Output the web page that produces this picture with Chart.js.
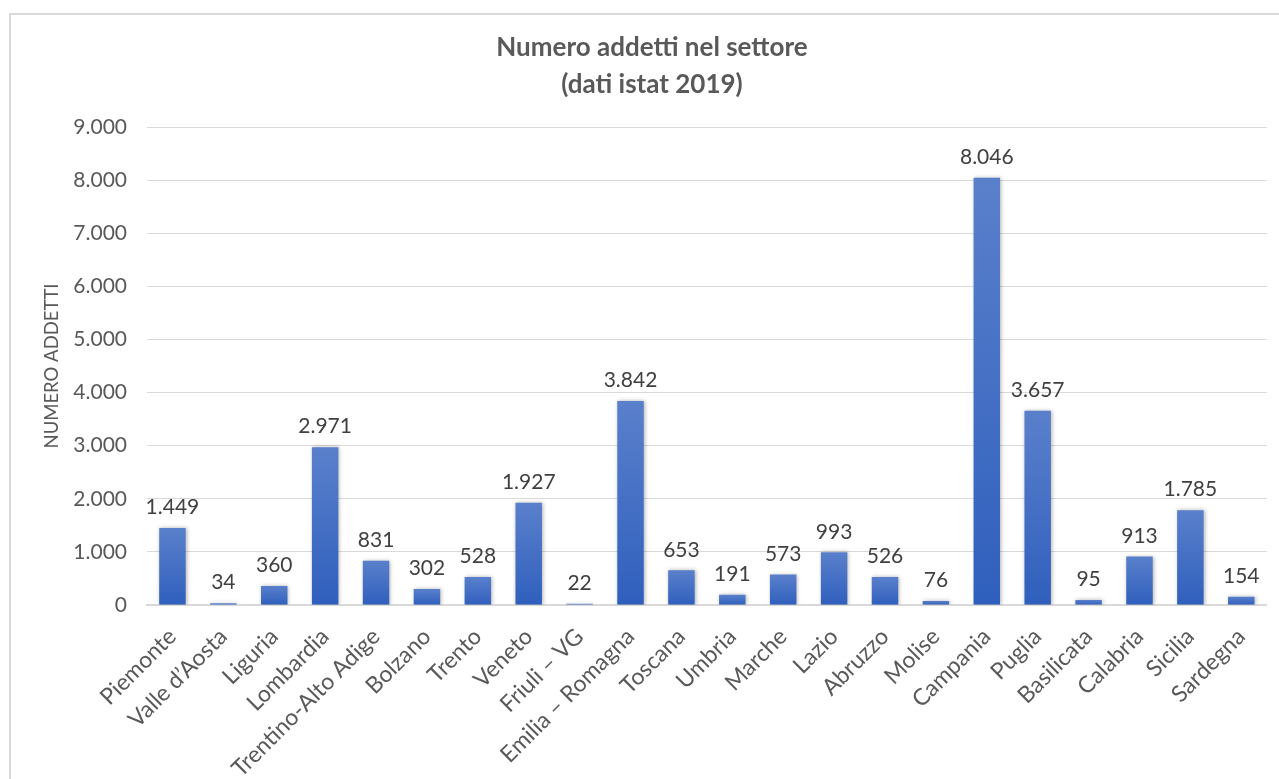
<!DOCTYPE html>
<html>
<head>
<meta charset="utf-8">
<script src="https://cdn.jsdelivr.net/npm/chart.js@4/dist/chart.umd.min.js"></script>
<style>
  body { margin: 0; background: #fff; }
  #frame { position: absolute; left: 9px; top: 13px; width: 1300px; height: 800px; border: 2px solid #d9d9d9; box-sizing: border-box; }
  #wrap { position: absolute; left: 0; top: 0; width: 1279px; height: 779px; }
</style>
</head>
<body>
<div id="frame"></div>
<div id="wrap"><canvas id="chart"></canvas></div>
<script>
const regions = ['Piemonte', 'Valle d\u2019Aosta', 'Liguria', 'Lombardia', 'Trentino-Alto Adige', 'Bolzano', 'Trento', 'Veneto',
  'Friuli \u2013 VG', 'Emilia \u2013 Romagna', 'Toscana', 'Umbria', 'Marche', 'Lazio', 'Abruzzo', 'Molise', 'Campania',
  'Puglia', 'Basilicata', 'Calabria', 'Sicilia', 'Sardegna'];
const addetti = [1449, 34, 360, 2971, 831, 302, 528, 1927, 22, 3842, 653, 191, 573, 993, 526, 76, 8046, 3657, 95, 913, 1785, 154];
const titleLines = ['Numero addetti nel settore', '(dati istat 2019)'];
const yTitle = 'NUMERO ADDETTI';

const FONT = 'Lato, "Open Sans", sans-serif';
const fmt = v => String(Math.round(v)).replace(/\B(?=(\d{3})+(?!\d))/g, '.');

function barGradient(ctx) {
  const chart = ctx.chart;
  if (!chart.chartArea || ctx.raw == null) return '#4472c4';
  const y = chart.scales.y;
  const top = y.getPixelForValue(ctx.raw), base = y.getPixelForValue(0);
  const g = chart.ctx.createLinearGradient(0, top, 0, Math.max(base, top + 1));
  g.addColorStop(0, '#5a80cb');
  g.addColorStop(1, '#2f5fbd');
  return g;
}

// value labels above bars
const valueLabels = {
  id: 'valueLabels',
  afterDatasetsDraw(chart) {
    const { ctx } = chart;
    ctx.save();
    ctx.font = '21px ' + FONT;
    ctx.fillStyle = '#404040';
    ctx.textAlign = 'center';
    ctx.textBaseline = 'bottom';
    chart.getDatasetMeta(0).data.forEach((bar, i) => {
      ctx.fillText(fmt(addetti[i]), bar.x, bar.y - 10);
    });
    ctx.restore();
  }
};

// soft shadow behind bars
const barShadow = {
  id: 'barShadow',
  beforeDatasetsDraw(chart) {
    chart.ctx.save();
    chart.ctx.shadowColor = 'rgba(0,0,0,0.3)';
    chart.ctx.shadowBlur = 4;
    chart.ctx.shadowOffsetX = 1;
    chart.ctx.shadowOffsetY = 0;
  },
  afterDatasetsDraw(chart) { chart.ctx.restore(); }
};

// title sits centred on the frame, a bit right of the canvas centre
const titleShift = {
  id: 'titleShift',
  afterLayout(chart) { if (chart.titleBlock) chart.titleBlock.left += 34; }
};

new Chart(document.getElementById('chart'), {
  type: 'bar',
  data: {
    labels: regions,
    datasets: [{ data: addetti, backgroundColor: barGradient, categoryPercentage: 1, barPercentage: 0.52 }]
  },
  options: {
    responsive: true, maintainAspectRatio: false, animation: false,
    layout: { padding: { left: 0, right: 9, top: 0, bottom: 0 } },
    plugins: {
      legend: { display: false },
      tooltip: { enabled: false },
      title: {
        display: true, text: titleLines, color: '#595959',
        font: { family: FONT, size: 26, weight: 'bold', lineHeight: '37px' },
        padding: { top: 29, bottom: 24 }
      }
    },
    scales: {
      x: {
        grid: { display: false, drawTicks: false },
        border: { color: '#d9d9d9', width: 2 },
        ticks: { color: '#595959', font: { family: FONT, size: 23 }, maxRotation: 45, minRotation: 45, padding: 18, autoSkip: false },
        afterFit: s => { s.height = 174; }
      },
      y: {
        min: 0, max: 9000,
        grid: { color: '#d9d9d9', drawTicks: false },
        border: { display: false },
        ticks: { stepSize: 1000, color: '#595959', font: { family: FONT, size: 21 }, padding: 20, callback: v => fmt(v) },
        title: { display: true, text: yTitle, color: '#595959', font: { family: FONT, size: 18.5 }, padding: { top: 41, bottom: 0 } },
        afterFit: s => { s.width = 147; }
      }
    }
  },
  plugins: [barShadow, valueLabels, titleShift]
});
</script>
</body>
</html>
